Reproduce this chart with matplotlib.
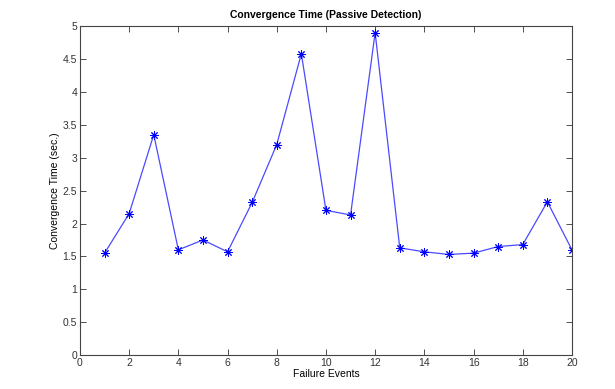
import numpy as np
import matplotlib
matplotlib.use("Agg")
import matplotlib.pyplot as plt

events = list(range(1, 21))
conv_time = [1.55, 2.15, 3.35, 1.60, 1.75, 1.57, 2.32, 3.20, 4.58, 2.20,
             2.13, 4.90, 1.63, 1.57, 1.53, 1.55, 1.65, 1.68, 2.33, 1.60]
xticks = list(range(0, 21, 2))
yticks = [0, 0.5, 1, 1.5, 2, 2.5, 3, 3.5, 4, 4.5, 5]

plt.rcParams['font.family'] = ['Liberation Sans', 'DejaVu Sans']

fig = plt.figure(figsize=(6.15, 3.89), dpi=100)
ax = fig.add_axes([0.130, 0.087, 0.800, 0.846])

# MATLAB-style '*' marker: 8 spokes
ax.plot(events, conv_time, color='#4a4aff', lw=0.9,
        marker=(8, 2, 0), markersize=6, markeredgecolor='#0000ff',
        markeredgewidth=0.7)

ax.set_xlim(0, 20)
ax.set_ylim(0, 5)
ax.set_xticks(xticks)
ax.set_yticks(yticks)
ax.set_yticklabels(['0', '0.5', '1', '1.5', '2', '2.5', '3', '3.5', '4', '4.5', '5'])
ax.tick_params(direction='in', top=True, right=True, labelsize=7.5,
               length=4, width=0.6, colors='#333333', pad=2)
for s in ax.spines.values():
    s.set_linewidth(0.8)
    s.set_color('#444444')

ax.set_title('Convergence Time (Passive Detection)', fontsize=7.5,
             fontweight='bold', pad=6)
ax.set_xlabel('Failure Events', fontsize=7.5, labelpad=1)
ax.set_ylabel('Convergence Time (sec.)', fontsize=7.5, labelpad=2)

fig.savefig('out.png', dpi=100)
